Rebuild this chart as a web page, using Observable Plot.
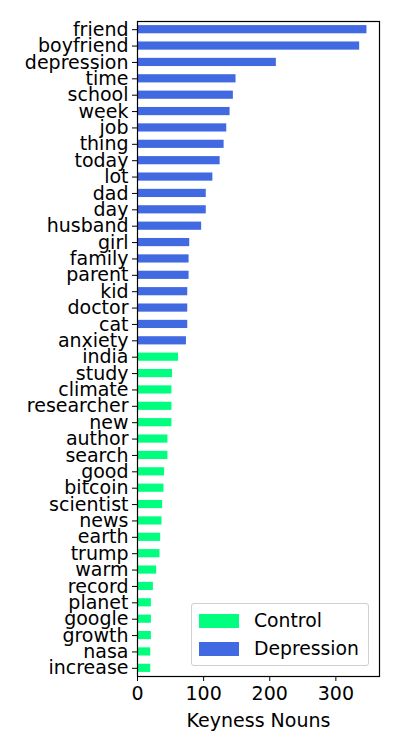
<!DOCTYPE html>
<html>
<head>
<meta charset="utf-8">
<script src="https://cdn.jsdelivr.net/npm/d3@7"></script>
<script src="https://cdn.jsdelivr.net/npm/@observablehq/plot@0.6"></script>
<style>
  html, body { margin: 0; padding: 0; background: #fff; }
  #wrap { position: relative; width: 400px; height: 750px; font-family: "DejaVu Sans", sans-serif; }
  #legend { position: absolute; left: 191px; top: 603px; width: 176px; height: 61px;
    border: 1px solid #d0d0d0; border-radius: 3px; background: rgba(255,255,255,0.85); box-sizing: content-box; }
  .row { position: absolute; left: 7px; height: 15px; display: flex; align-items: center; }
  .sw { width: 40px; height: 14px; }
  .lb { margin-left: 15px; font-size: 18.8px; color: #000; }
</style>
</head>
<body>
<div id="wrap"></div>
<script>
const words = ["friend","boyfriend","depression","time","school","week","job","thing","today","lot",
  "dad","day","husband","girl","family","parent","kid","doctor","cat","anxiety",
  "india","study","climate","researcher","new","author","search","good","bitcoin","scientist",
  "news","earth","trump","warm","record","planet","google","growth","nasa","increase"];
const values = [347,336,210,149,145,140,135,131,125,114,
  104,104,97,79,78,78,76,76,76,74,
  62,53,52,52,52,46,46,41,40,38,
  37,35,34,29,24,21,21,21,20,20];
const groups = [...Array(20).fill("Depression"), ...Array(20).fill("Control")];
const seriesNames = ["Control","Depression"];
const seriesColors = ["#00FF7F","#4169E1"];
const xTicks = [0,100,200,300];

const data = words.map((w,i) => ({word: w, value: values[i], group: groups[i]}));

const chart = Plot.plot({
  width: 400, height: 750,
  marginLeft: 137, marginRight: 21, marginTop: 21, marginBottom: 74,
  style: {fontFamily: "DejaVu Sans, sans-serif", fontSize: "19px", color: "#000", background: "#fff"},
  x: {domain: [0, 366]},
  y: {domain: words, paddingInner: 0.5, paddingOuter: 0.25, round: false},
  color: {domain: seriesNames, range: seriesColors},
  marks: [
    Plot.barX(data, {x: "value", y: "word", fill: "group"}),
    Plot.frame({stroke: "#000", strokeWidth: 1.2}),
    Plot.axisY({tickSize: 5, tickPadding: 4, fontSize: 19, label: null}),
    Plot.axisX({ticks: xTicks, tickSize: 5, tickPadding: 5, fontSize: 19,
      label: "Keyness Nouns", labelAnchor: "center", labelArrow: "none", labelOffset: 50})
  ]
});
const wrap = document.getElementById("wrap");
wrap.appendChild(chart);

const leg = document.createElement("div");
leg.id = "legend";
seriesNames.forEach((name, i) => {
  const row = document.createElement("div");
  row.className = "row";
  row.style.top = (i === 0 ? 9 : 37) + "px";
  const sw = document.createElement("div");
  sw.className = "sw";
  sw.style.background = seriesColors[i];
  const lb = document.createElement("span");
  lb.className = "lb";
  lb.textContent = name;
  row.appendChild(sw); row.appendChild(lb);
  leg.appendChild(row);
});
wrap.appendChild(leg);
</script>
</body>
</html>
